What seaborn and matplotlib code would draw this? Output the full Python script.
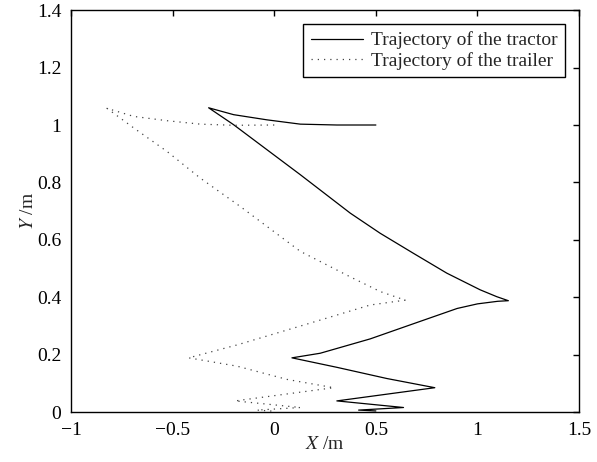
import matplotlib
matplotlib.use("Agg")
import matplotlib.pyplot as plt
import seaborn as sns
import pandas as pd

# Tractor trajectory
tractor_x = [0.50, 0.308, 0.128, -0.036, -0.20, -0.323,
             -0.20, -0.036, 0.128, 0.374, 0.521, 0.685, 0.849, 1.013, 1.095, 1.152,
             1.10, 1.0, 0.90, 0.726, 0.472, 0.226, 0.087,
             0.308, 0.554, 0.79,
             0.308, 0.636, 0.415, 0.50]
tractor_y = [1.0, 1.0, 1.003, 1.018, 1.036, 1.06,
             1.001, 0.914, 0.827, 0.693, 0.623, 0.553, 0.484, 0.426, 0.402, 0.388,
             0.386, 0.377, 0.361, 0.318, 0.255, 0.205, 0.189,
             0.156, 0.117, 0.085,
             0.039, 0.016, 0.007, 0.004]

# Trailer trajectory
trailer_x = [0.0, -0.20, -0.364, -0.528, -0.692, -0.823,
             -0.692, -0.528, -0.364, -0.167, 0.128, 0.374, 0.521, 0.644,
             0.472, 0.144, -0.183, -0.421,
             -0.183, 0.062, 0.292,
             -0.192, 0.128, -0.085, 0.0]
trailer_y = [1.0, 0.999, 1.003, 1.015, 1.03, 1.058,
             0.99, 0.908, 0.815, 0.716, 0.56, 0.471, 0.42, 0.39,
             0.373, 0.303, 0.234, 0.189,
             0.16, 0.114, 0.085,
             0.039, 0.016, 0.007, 0.003]

labels = ["Trajectory of the tractor", "Trajectory of the trailer"]
x_ticks = [-1, -0.5, 0, 0.5, 1, 1.5]
y_ticks = [0, 0.2, 0.4, 0.6, 0.8, 1.0, 1.2, 1.4]

sns.set_style("white")
plt.rcParams['font.family'] = ['Liberation Serif', 'DejaVu Serif']
plt.rcParams['mathtext.fontset'] = 'stix'

fig = plt.figure(figsize=(5.97, 4.62), dpi=100)
ax = fig.add_axes([0.119, 0.108, 0.851, 0.870])

df_tr = pd.DataFrame({"x": tractor_x, "y": tractor_y})
df_tl = pd.DataFrame({"x": trailer_x, "y": trailer_y})

sns.lineplot(data=df_tr, x="x", y="y", sort=False, estimator=None, ax=ax,
             color="black", linewidth=0.9, label=labels[0])
sns.lineplot(data=df_tl, x="x", y="y", sort=False, estimator=None, ax=ax,
             color="#444444", linewidth=0.9, linestyle=(0, (1, 4)), label=labels[1])

ax.set_xlim(-1, 1.5)
ax.set_ylim(0, 1.4)
ax.set_xticks(x_ticks)
ax.set_yticks(y_ticks)
ax.set_xticklabels(["\u22121", "\u22120.5", "0", "0.5", "1", "1.5"])
ax.set_yticklabels(["0", "0.2", "0.4", "0.6", "0.8", "1", "1.2", "1.4"])
ax.tick_params(direction="in", top=True, right=True, length=4, width=1,
               labelsize=14, colors="black")
ax.tick_params(axis="x", pad=7)
ax.tick_params(axis="y", pad=7)
for s in ax.spines.values():
    s.set_visible(True)
    s.set_color("black")
    s.set_linewidth(1.0)

ax.set_xlabel(r"$\mathit{X}$ /m", fontsize=14, labelpad=-2)
ax.set_ylabel(r"$\mathit{Y}$ /m", fontsize=14, labelpad=0)

leg = ax.legend(loc="upper right", fontsize=14, frameon=True, fancybox=False,
                edgecolor="black", framealpha=1, handlelength=2.7,
                borderpad=0.4, labelspacing=0.12, handletextpad=0.4,
                borderaxespad=0.7)
leg.get_frame().set_linewidth(1.0)

fig.savefig("out.png", dpi=100)
